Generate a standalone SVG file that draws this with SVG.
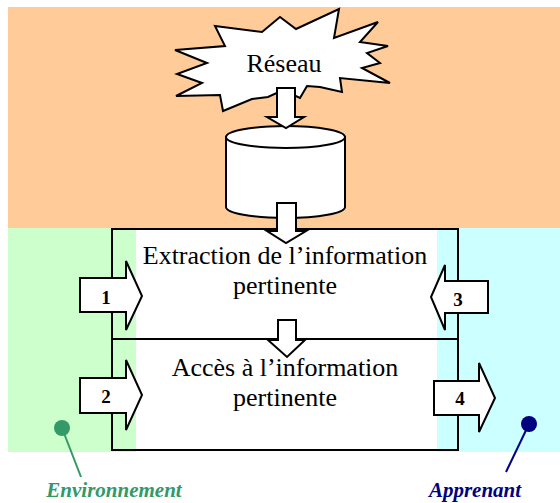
<svg xmlns="http://www.w3.org/2000/svg" width="560" height="503" viewBox="0 0 560 503">
  <style>
    .shape { fill: #ffffff; stroke: #000000; stroke-width: 2; stroke-linejoin: miter; }
    .frame { fill: none; stroke: #000000; stroke-width: 2; }
    .main { font-family: "Liberation Serif", "Times New Roman", serif; font-size: 26px; fill: #000000; text-anchor: middle; }
    .num { font-family: "Liberation Serif", "Times New Roman", serif; font-size: 19px; font-weight: bold; fill: #000000; text-anchor: middle; }
    .zone { font-family: "Liberation Serif", "Times New Roman", serif; font-size: 21px; font-weight: bold; font-style: italic; text-anchor: middle; }
  </style>

  <!-- background zones -->
  <g id="zones">
    <rect x="8" y="7" width="552" height="221" fill="#FFCC99"/>
    <rect x="8" y="228" width="128" height="224" fill="#CCFFCC"/>
    <rect x="437" y="228" width="123" height="224" fill="#CCFFFF"/>
    <rect x="136" y="229" width="301" height="221" fill="#ffffff"/>
  </g>

  <!-- network burst -->
  <g id="reseau">
    <polygon class="shape" points="215,26 262,32 280,17 296,29 339,9 334,38 378,22 360,42 388,46 367,53 380,63 362,68 390,83 340,78 342,92 320,87 307,86 300,98 283,90 268,97 252,99 223,111 220,95 176,96 202,83 177,74 207,63 175,50 225,46"/>
    <text class="main" x="284" y="72">Réseau</text>
  </g>

  <!-- database cylinder -->
  <g id="base">
    <path class="shape" d="M226,137 L226,207 A59.5,11 0 0 0 345,207 L345,137 Z"/>
    <ellipse class="shape" cx="285.5" cy="137" rx="59.5" ry="11"/>
  </g>

  <!-- processing box with two stages -->
  <g id="extraction">
    <rect class="frame" x="112" y="229" width="346" height="110"/>
    <text class="main" x="285" y="264">Extraction de l’information</text>
    <text class="main" x="285" y="294">pertinente</text>
  </g>
  <g id="acces">
    <rect class="frame" x="112" y="339" width="346" height="111"/>
    <text class="main" x="285" y="376">Accès à l’information</text>
    <text class="main" x="285" y="406">pertinente</text>
  </g>

  <!-- flow arrows -->
  <g id="connectors">
    <polygon class="shape" points="277,88 295,88 295,117 304,117 286,128 267,117 277,117"/>
    <polygon class="shape" points="277,203 296,203 296,231 306,231 286,243 267,231 277,231"/>
    <polygon class="shape" points="278,320 296,320 296,340 305,340 287,357 268,340 278,340"/>

    <g id="flux1">
      <polygon class="shape" points="80,278 126,278 126,261 142,296 126,330 126,312 80,312"/>
      <text class="num" x="106" y="304">1</text>
    </g>
    <g id="flux2">
      <polygon class="shape" points="80,378 126,378 126,360 142,395 126,430 126,413 80,413"/>
      <text class="num" x="106" y="403">2</text>
    </g>
    <g id="flux3">
      <polygon class="shape" points="488,281 445,281 445,265 431,297 445,330 445,313 488,313"/>
      <text class="num" x="458" y="306">3</text>
    </g>
    <g id="flux4">
      <polygon class="shape" points="434,381 479,381 479,363 495,398 479,432 479,415 434,415"/>
      <text class="num" x="460" y="405">4</text>
    </g>
  </g>

  <!-- zone callouts -->
  <g id="environnement">
    <line x1="62" y1="428" x2="81" y2="477" stroke="#339966" stroke-width="2"/>
    <circle cx="62" cy="428" r="8" fill="#339966"/>
    <text class="zone" x="114" y="497" fill="#339966">Environnement</text>
  </g>
  <g id="apprenant">
    <line x1="529" y1="424" x2="506" y2="472" stroke="#000080" stroke-width="2"/>
    <circle cx="529" cy="424" r="8" fill="#000080"/>
    <text class="zone" x="475" y="497" fill="#000080">Apprenant</text>
  </g>
</svg>
